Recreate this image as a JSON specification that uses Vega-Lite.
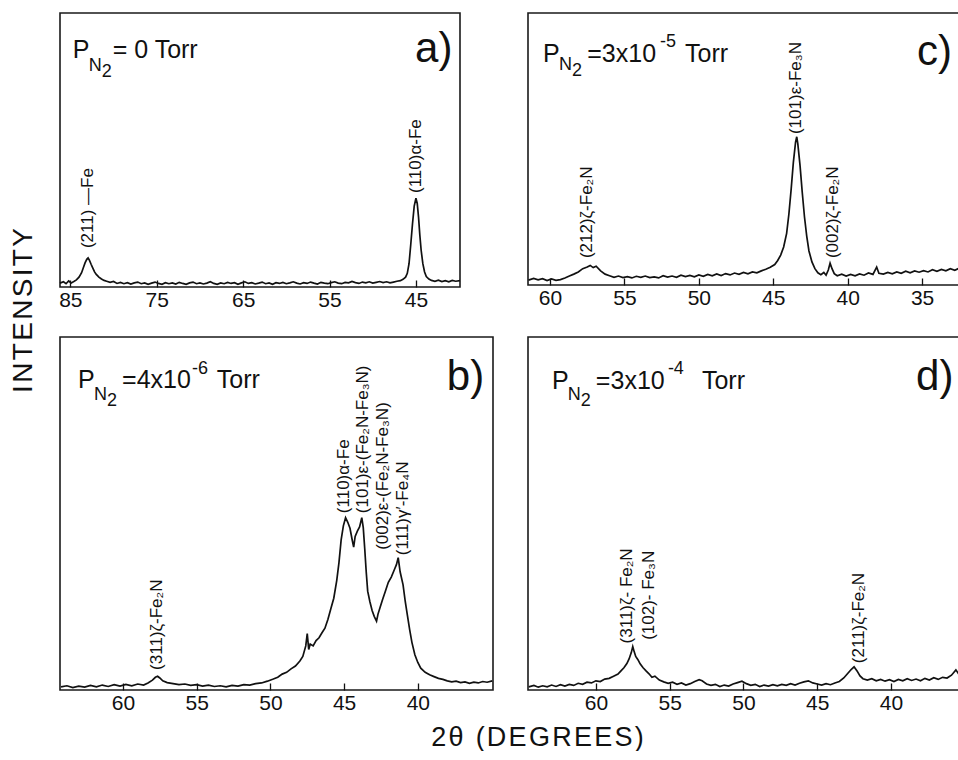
{
  "$schema": "https://vega.github.io/schema/vega-lite/v6.json",
  "background": "white",
  "padding": {"left": 8, "top": 12, "right": 0, "bottom": 0},
  "columns": 2,
  "spacing": {"row": 50, "column": 35},
  "bounds": "flush",
  "align": "each",
  "resolve": {"scale": {"x": "independent", "y": "independent"}},
  "config": {
    "view": {"stroke": "#1a1a1a", "strokeWidth": 1.6},
    "axis": {"labelFont": "Liberation Sans", "labelFontSize": 21, "labelColor": "#111", "tickColor": "#111", "tickSize": -7, "tickWidth": 1.3, "domain": false, "grid": false, "labelPadding": 9, "titleFont": "Liberation Sans", "titleColor": "#111", "titleFontWeight": "normal"},
    "text": {"font": "Liberation Sans", "color": "#111"}
  },
  "datasets": {
    "curve_a": [
      {"two_theta":86.2,"intensity":1.4},{"two_theta":85.8,"intensity":1.9},{"two_theta":85.5,"intensity":1.2},{"two_theta":85.2,"intensity":2.2},{"two_theta":84.9,"intensity":1.5},{"two_theta":84.6,"intensity":2.0},{"two_theta":84.3,"intensity":2.6},{"two_theta":84.0,"intensity":3.6},{"two_theta":83.7,"intensity":5.2},{"two_theta":83.5,"intensity":7.0},{"two_theta":83.3,"intensity":8.8},{"two_theta":83.1,"intensity":10.1},{"two_theta":82.95,"intensity":10.6},{"two_theta":82.8,"intensity":9.8},{"two_theta":82.6,"intensity":8.3},{"two_theta":82.4,"intensity":6.9},{"two_theta":82.2,"intensity":5.5},{"two_theta":82.0,"intensity":4.6},{"two_theta":81.7,"intensity":3.6},{"two_theta":81.4,"intensity":2.9},{"two_theta":81.1,"intensity":2.4},{"two_theta":80.8,"intensity":2.1},{"two_theta":80.4,"intensity":1.7},{"two_theta":80.0,"intensity":2.0},{"two_theta":79.6,"intensity":1.3},{"two_theta":79.2,"intensity":1.7},{"two_theta":78.8,"intensity":1.2},{"two_theta":78.4,"intensity":1.6},{"two_theta":78.0,"intensity":1.1},{"two_theta":77.6,"intensity":1.5},{"two_theta":77.2,"intensity":1.8},{"two_theta":76.8,"intensity":1.2},{"two_theta":76.4,"intensity":1.5},{"two_theta":76.0,"intensity":1.0},{"two_theta":75.6,"intensity":1.4},{"two_theta":75.2,"intensity":1.8},{"two_theta":74.8,"intensity":1.3},{"two_theta":74.4,"intensity":1.0},{"two_theta":74.0,"intensity":1.6},{"two_theta":73.6,"intensity":1.2},{"two_theta":73.2,"intensity":1.5},{"two_theta":72.8,"intensity":1.1},{"two_theta":72.4,"intensity":1.7},{"two_theta":72.0,"intensity":1.3},{"two_theta":71.6,"intensity":1.0},{"two_theta":71.2,"intensity":1.5},{"two_theta":70.8,"intensity":1.8},{"two_theta":70.4,"intensity":1.2},{"two_theta":70.0,"intensity":1.5},{"two_theta":69.6,"intensity":1.1},{"two_theta":69.2,"intensity":1.4},{"two_theta":68.8,"intensity":1.9},{"two_theta":68.4,"intensity":1.3},{"two_theta":68.0,"intensity":1.0},{"two_theta":67.6,"intensity":1.5},{"two_theta":67.2,"intensity":1.2},{"two_theta":66.8,"intensity":1.7},{"two_theta":66.4,"intensity":1.3},{"two_theta":66.0,"intensity":1.6},{"two_theta":65.6,"intensity":1.0},{"two_theta":65.2,"intensity":1.5},{"two_theta":64.8,"intensity":1.9},{"two_theta":64.4,"intensity":1.3},{"two_theta":64.0,"intensity":1.6},{"two_theta":63.6,"intensity":1.1},{"two_theta":63.2,"intensity":1.4},{"two_theta":62.8,"intensity":1.8},{"two_theta":62.4,"intensity":1.2},{"two_theta":62.0,"intensity":1.5},{"two_theta":61.6,"intensity":1.0},{"two_theta":61.2,"intensity":1.6},{"two_theta":60.8,"intensity":1.3},{"two_theta":60.4,"intensity":1.7},{"two_theta":60.0,"intensity":1.2},{"two_theta":59.6,"intensity":1.5},{"two_theta":59.2,"intensity":1.9},{"two_theta":58.8,"intensity":1.4},{"two_theta":58.4,"intensity":1.1},{"two_theta":58.0,"intensity":1.6},{"two_theta":57.6,"intensity":1.3},{"two_theta":57.2,"intensity":1.8},{"two_theta":56.8,"intensity":1.4},{"two_theta":56.4,"intensity":1.1},{"two_theta":56.0,"intensity":1.7},{"two_theta":55.6,"intensity":1.4},{"two_theta":55.2,"intensity":1.2},{"two_theta":54.8,"intensity":1.6},{"two_theta":54.4,"intensity":1.9},{"two_theta":54.0,"intensity":1.4},{"two_theta":53.6,"intensity":1.2},{"two_theta":53.2,"intensity":1.7},{"two_theta":52.8,"intensity":1.5},{"two_theta":52.4,"intensity":2.0},{"two_theta":52.0,"intensity":1.6},{"two_theta":51.6,"intensity":1.3},{"two_theta":51.2,"intensity":1.8},{"two_theta":50.8,"intensity":1.5},{"two_theta":50.4,"intensity":1.9},{"two_theta":50.0,"intensity":1.4},{"two_theta":49.6,"intensity":1.7},{"two_theta":49.2,"intensity":2.0},{"two_theta":48.8,"intensity":1.6},{"two_theta":48.4,"intensity":1.9},{"two_theta":48.0,"intensity":1.5},{"two_theta":47.6,"intensity":1.8},{"two_theta":47.2,"intensity":2.1},{"two_theta":46.8,"intensity":2.3},{"two_theta":46.5,"intensity":2.8},{"two_theta":46.2,"intensity":3.6},{"two_theta":46.0,"intensity":5.0},{"two_theta":45.8,"intensity":8.5},{"two_theta":45.6,"intensity":15.5},{"two_theta":45.4,"intensity":23.0},{"two_theta":45.2,"intensity":29.5},{"two_theta":45.0,"intensity":32.4},{"two_theta":44.85,"intensity":30.5},{"two_theta":44.7,"intensity":25.5},{"two_theta":44.55,"intensity":19.0},{"two_theta":44.4,"intensity":13.5},{"two_theta":44.2,"intensity":8.5},{"two_theta":44.0,"intensity":5.5},{"two_theta":43.8,"intensity":3.8},{"two_theta":43.5,"intensity":2.9},{"two_theta":43.2,"intensity":2.4},{"two_theta":42.8,"intensity":2.1},{"two_theta":42.4,"intensity":2.5},{"two_theta":42.0,"intensity":2.0},{"two_theta":41.6,"intensity":2.3},{"two_theta":41.2,"intensity":1.9},{"two_theta":40.8,"intensity":2.4},{"two_theta":40.4,"intensity":2.1},{"two_theta":39.9,"intensity":2.3}
    ],
    "curve_b": [
      {"two_theta":64.2,"intensity":0.9},{"two_theta":63.8,"intensity":1.2},{"two_theta":63.4,"intensity":0.7},{"two_theta":63.0,"intensity":1.1},{"two_theta":62.6,"intensity":0.8},{"two_theta":62.2,"intensity":1.3},{"two_theta":61.8,"intensity":0.9},{"two_theta":61.4,"intensity":1.4},{"two_theta":61.0,"intensity":1.0},{"two_theta":60.6,"intensity":1.5},{"two_theta":60.2,"intensity":1.1},{"two_theta":59.8,"intensity":1.6},{"two_theta":59.4,"intensity":1.2},{"two_theta":59.0,"intensity":1.7},{"two_theta":58.6,"intensity":1.4},{"two_theta":58.3,"intensity":2.0},{"two_theta":58.0,"intensity":2.8},{"two_theta":57.8,"intensity":3.6},{"two_theta":57.65,"intensity":3.9},{"two_theta":57.5,"intensity":3.4},{"two_theta":57.3,"intensity":2.6},{"two_theta":57.0,"intensity":2.1},{"two_theta":56.6,"intensity":1.8},{"two_theta":56.2,"intensity":1.5},{"two_theta":55.8,"intensity":1.7},{"two_theta":55.4,"intensity":1.3},{"two_theta":55.0,"intensity":1.5},{"two_theta":54.6,"intensity":1.1},{"two_theta":54.2,"intensity":1.4},{"two_theta":53.8,"intensity":1.0},{"two_theta":53.4,"intensity":1.2},{"two_theta":53.0,"intensity":0.9},{"two_theta":52.6,"intensity":1.3},{"two_theta":52.2,"intensity":1.1},{"two_theta":51.8,"intensity":1.5},{"two_theta":51.4,"intensity":1.4},{"two_theta":51.0,"intensity":1.8},{"two_theta":50.6,"intensity":2.0},{"two_theta":50.2,"intensity":2.5},{"two_theta":49.8,"intensity":3.1},{"two_theta":49.5,"intensity":3.6},{"two_theta":49.2,"intensity":4.5},{"two_theta":48.9,"intensity":5.0},{"two_theta":48.6,"intensity":6.0},{"two_theta":48.3,"intensity":6.8},{"two_theta":48.0,"intensity":8.2},{"two_theta":47.8,"intensity":9.5},{"two_theta":47.6,"intensity":12.5},{"two_theta":47.5,"intensity":16.0},{"two_theta":47.4,"intensity":11.5},{"two_theta":47.3,"intensity":13.0},{"two_theta":47.1,"intensity":12.5},{"two_theta":46.9,"intensity":14.0},{"two_theta":46.7,"intensity":14.8},{"two_theta":46.5,"intensity":16.2},{"two_theta":46.3,"intensity":17.5},{"two_theta":46.1,"intensity":20.0},{"two_theta":45.9,"intensity":23.0},{"two_theta":45.7,"intensity":26.0},{"two_theta":45.5,"intensity":31.0},{"two_theta":45.35,"intensity":36.0},{"two_theta":45.2,"intensity":42.5},{"two_theta":45.05,"intensity":46.5},{"two_theta":44.9,"intensity":48.8},{"two_theta":44.75,"intensity":47.5},{"two_theta":44.6,"intensity":45.8},{"two_theta":44.45,"intensity":42.5},{"two_theta":44.35,"intensity":40.5},{"two_theta":44.25,"intensity":43.5},{"two_theta":44.1,"intensity":45.0},{"two_theta":43.95,"intensity":46.2},{"two_theta":43.8,"intensity":48.8},{"two_theta":43.7,"intensity":46.0},{"two_theta":43.6,"intensity":40.0},{"two_theta":43.5,"intensity":33.5},{"two_theta":43.4,"intensity":28.0},{"two_theta":43.25,"intensity":25.0},{"two_theta":43.1,"intensity":22.5},{"two_theta":42.95,"intensity":20.8},{"two_theta":42.8,"intensity":19.5},{"two_theta":42.7,"intensity":21.5},{"two_theta":42.55,"intensity":23.5},{"two_theta":42.4,"intensity":25.5},{"two_theta":42.2,"intensity":28.0},{"two_theta":42.0,"intensity":30.5},{"two_theta":41.8,"intensity":32.0},{"two_theta":41.6,"intensity":34.0},{"two_theta":41.45,"intensity":35.5},{"two_theta":41.33,"intensity":37.5},{"two_theta":41.2,"intensity":33.5},{"two_theta":41.0,"intensity":29.8},{"two_theta":40.85,"intensity":25.0},{"two_theta":40.7,"intensity":21.0},{"two_theta":40.55,"intensity":17.0},{"two_theta":40.4,"intensity":13.5},{"two_theta":40.2,"intensity":10.0},{"two_theta":40.0,"intensity":7.8},{"two_theta":39.8,"intensity":6.2},{"two_theta":39.5,"intensity":5.0},{"two_theta":39.2,"intensity":4.3},{"two_theta":38.9,"intensity":3.8},{"two_theta":38.6,"intensity":3.3},{"two_theta":38.3,"intensity":3.0},{"two_theta":38.0,"intensity":2.6},{"two_theta":37.7,"intensity":2.3},{"two_theta":37.4,"intensity":2.5},{"two_theta":37.1,"intensity":2.1},{"two_theta":36.8,"intensity":2.3},{"two_theta":36.5,"intensity":1.9},{"two_theta":36.2,"intensity":2.2},{"two_theta":35.9,"intensity":2.0},{"two_theta":35.6,"intensity":2.4},{"two_theta":35.3,"intensity":2.2},{"two_theta":34.95,"intensity":2.6}
    ],
    "curve_c": [
      {"two_theta":61.45,"intensity":1.8},{"two_theta":61.1,"intensity":2.4},{"two_theta":60.8,"intensity":1.9},{"two_theta":60.5,"intensity":2.3},{"two_theta":60.2,"intensity":1.6},{"two_theta":59.9,"intensity":2.2},{"two_theta":59.6,"intensity":1.7},{"two_theta":59.3,"intensity":2.0},{"two_theta":59.0,"intensity":2.6},{"two_theta":58.7,"intensity":3.3},{"two_theta":58.4,"intensity":4.0},{"two_theta":58.1,"intensity":4.8},{"two_theta":57.8,"intensity":6.0},{"two_theta":57.5,"intensity":6.6},{"two_theta":57.3,"intensity":7.2},{"two_theta":57.1,"intensity":6.4},{"two_theta":56.9,"intensity":6.9},{"two_theta":56.6,"intensity":5.2},{"two_theta":56.3,"intensity":4.0},{"two_theta":56.0,"intensity":3.4},{"two_theta":55.7,"intensity":2.8},{"two_theta":55.4,"intensity":3.3},{"two_theta":55.1,"intensity":2.7},{"two_theta":54.8,"intensity":3.1},{"two_theta":54.5,"intensity":2.6},{"two_theta":54.2,"intensity":3.2},{"two_theta":53.9,"intensity":2.8},{"two_theta":53.6,"intensity":3.3},{"two_theta":53.3,"intensity":2.7},{"two_theta":53.0,"intensity":3.0},{"two_theta":52.7,"intensity":2.6},{"two_theta":52.4,"intensity":3.4},{"two_theta":52.1,"intensity":2.9},{"two_theta":51.8,"intensity":3.3},{"two_theta":51.5,"intensity":2.8},{"two_theta":51.2,"intensity":3.6},{"two_theta":50.9,"intensity":3.1},{"two_theta":50.6,"intensity":3.5},{"two_theta":50.3,"intensity":3.0},{"two_theta":50.0,"intensity":3.7},{"two_theta":49.7,"intensity":3.2},{"two_theta":49.4,"intensity":3.9},{"two_theta":49.1,"intensity":3.4},{"two_theta":48.8,"intensity":4.1},{"two_theta":48.5,"intensity":3.5},{"two_theta":48.2,"intensity":4.2},{"two_theta":47.9,"intensity":3.7},{"two_theta":47.6,"intensity":4.4},{"two_theta":47.3,"intensity":3.9},{"two_theta":47.0,"intensity":4.6},{"two_theta":46.7,"intensity":4.1},{"two_theta":46.4,"intensity":4.8},{"two_theta":46.1,"intensity":4.5},{"two_theta":45.8,"intensity":5.2},{"two_theta":45.5,"intensity":5.8},{"two_theta":45.2,"intensity":6.5},{"two_theta":44.9,"intensity":7.5},{"two_theta":44.7,"intensity":9.0},{"two_theta":44.5,"intensity":11.0},{"two_theta":44.3,"intensity":14.0},{"two_theta":44.1,"intensity":19.0},{"two_theta":43.95,"intensity":26.0},{"two_theta":43.8,"intensity":35.0},{"two_theta":43.65,"intensity":45.0},{"two_theta":43.5,"intensity":52.5},{"two_theta":43.42,"intensity":54.5},{"two_theta":43.35,"intensity":52.0},{"two_theta":43.2,"intensity":44.0},{"two_theta":43.05,"intensity":34.0},{"two_theta":42.9,"intensity":25.0},{"two_theta":42.75,"intensity":18.0},{"two_theta":42.6,"intensity":12.5},{"two_theta":42.4,"intensity":8.5},{"two_theta":42.2,"intensity":6.0},{"two_theta":42.0,"intensity":4.5},{"two_theta":41.8,"intensity":3.8},{"two_theta":41.6,"intensity":4.6},{"two_theta":41.45,"intensity":3.6},{"two_theta":41.3,"intensity":5.5},{"two_theta":41.18,"intensity":8.0},{"two_theta":41.05,"intensity":6.0},{"two_theta":40.9,"intensity":4.2},{"two_theta":40.7,"intensity":3.4},{"two_theta":40.4,"intensity":4.0},{"two_theta":40.1,"intensity":3.3},{"two_theta":39.8,"intensity":3.9},{"two_theta":39.5,"intensity":3.4},{"two_theta":39.2,"intensity":4.1},{"two_theta":38.9,"intensity":3.6},{"two_theta":38.6,"intensity":4.4},{"two_theta":38.3,"intensity":3.9},{"two_theta":38.05,"intensity":6.6},{"two_theta":37.9,"intensity":4.3},{"two_theta":37.6,"intensity":4.0},{"two_theta":37.3,"intensity":4.6},{"two_theta":37.0,"intensity":4.1},{"two_theta":36.7,"intensity":4.8},{"two_theta":36.4,"intensity":4.3},{"two_theta":36.1,"intensity":5.1},{"two_theta":35.8,"intensity":4.5},{"two_theta":35.5,"intensity":5.2},{"two_theta":35.2,"intensity":4.7},{"two_theta":34.9,"intensity":5.3},{"two_theta":34.6,"intensity":4.8},{"two_theta":34.3,"intensity":5.6},{"two_theta":34.0,"intensity":5.0},{"two_theta":33.7,"intensity":5.7},{"two_theta":33.4,"intensity":5.2},{"two_theta":33.1,"intensity":6.0},{"two_theta":32.8,"intensity":5.4},{"two_theta":32.5,"intensity":6.2}
    ],
    "curve_d": [
      {"two_theta":64.55,"intensity":0.9},{"two_theta":64.2,"intensity":1.3},{"two_theta":63.9,"intensity":0.8},{"two_theta":63.6,"intensity":1.2},{"two_theta":63.3,"intensity":0.9},{"two_theta":63.0,"intensity":1.4},{"two_theta":62.7,"intensity":1.0},{"two_theta":62.4,"intensity":1.5},{"two_theta":62.1,"intensity":1.1},{"two_theta":61.8,"intensity":1.6},{"two_theta":61.5,"intensity":1.3},{"two_theta":61.2,"intensity":1.9},{"two_theta":60.9,"intensity":1.6},{"two_theta":60.6,"intensity":2.2},{"two_theta":60.3,"intensity":2.0},{"two_theta":60.0,"intensity":2.6},{"two_theta":59.7,"intensity":2.4},{"two_theta":59.4,"intensity":3.1},{"two_theta":59.1,"intensity":3.3},{"two_theta":58.8,"intensity":3.9},{"two_theta":58.5,"intensity":4.5},{"two_theta":58.3,"intensity":5.4},{"two_theta":58.1,"intensity":6.3},{"two_theta":57.9,"intensity":7.5},{"two_theta":57.75,"intensity":8.8},{"two_theta":57.6,"intensity":10.6},{"two_theta":57.5,"intensity":12.3},{"two_theta":57.4,"intensity":10.8},{"two_theta":57.3,"intensity":9.5},{"two_theta":57.15,"intensity":8.6},{"two_theta":57.0,"intensity":7.4},{"two_theta":56.8,"intensity":6.3},{"two_theta":56.6,"intensity":5.4},{"two_theta":56.4,"intensity":4.6},{"two_theta":56.2,"intensity":3.6},{"two_theta":56.0,"intensity":3.9},{"two_theta":55.7,"intensity":2.8},{"two_theta":55.4,"intensity":2.3},{"two_theta":55.1,"intensity":1.9},{"two_theta":54.8,"intensity":2.2},{"two_theta":54.5,"intensity":1.6},{"two_theta":54.2,"intensity":2.0},{"two_theta":53.9,"intensity":1.4},{"two_theta":53.6,"intensity":1.8},{"two_theta":53.3,"intensity":2.4},{"two_theta":53.0,"intensity":2.9},{"two_theta":52.8,"intensity":2.6},{"two_theta":52.5,"intensity":1.7},{"two_theta":52.2,"intensity":1.3},{"two_theta":51.9,"intensity":1.6},{"two_theta":51.6,"intensity":1.0},{"two_theta":51.3,"intensity":1.4},{"two_theta":51.0,"intensity":1.1},{"two_theta":50.7,"intensity":1.7},{"two_theta":50.4,"intensity":2.1},{"two_theta":50.1,"intensity":2.5},{"two_theta":49.8,"intensity":1.8},{"two_theta":49.5,"intensity":1.3},{"two_theta":49.2,"intensity":1.6},{"two_theta":48.9,"intensity":1.0},{"two_theta":48.6,"intensity":1.4},{"two_theta":48.3,"intensity":1.1},{"two_theta":48.0,"intensity":1.5},{"two_theta":47.7,"intensity":1.2},{"two_theta":47.4,"intensity":1.6},{"two_theta":47.1,"intensity":1.3},{"two_theta":46.8,"intensity":1.8},{"two_theta":46.5,"intensity":1.4},{"two_theta":46.2,"intensity":1.9},{"two_theta":45.9,"intensity":2.3},{"two_theta":45.6,"intensity":2.6},{"two_theta":45.3,"intensity":2.0},{"two_theta":45.0,"intensity":1.7},{"two_theta":44.7,"intensity":1.4},{"two_theta":44.4,"intensity":1.8},{"two_theta":44.1,"intensity":1.5},{"two_theta":43.8,"intensity":2.0},{"two_theta":43.5,"intensity":2.4},{"two_theta":43.2,"intensity":3.4},{"two_theta":42.95,"intensity":4.6},{"two_theta":42.7,"intensity":5.8},{"two_theta":42.5,"intensity":6.6},{"two_theta":42.3,"intensity":5.4},{"two_theta":42.1,"intensity":4.0},{"two_theta":41.9,"intensity":3.2},{"two_theta":41.6,"intensity":2.8},{"two_theta":41.3,"intensity":3.2},{"two_theta":41.0,"intensity":2.6},{"two_theta":40.7,"intensity":3.0},{"two_theta":40.4,"intensity":2.5},{"two_theta":40.1,"intensity":2.9},{"two_theta":39.8,"intensity":2.4},{"two_theta":39.5,"intensity":3.0},{"two_theta":39.2,"intensity":2.6},{"two_theta":38.9,"intensity":3.2},{"two_theta":38.6,"intensity":2.7},{"two_theta":38.3,"intensity":3.1},{"two_theta":38.0,"intensity":2.6},{"two_theta":37.7,"intensity":3.3},{"two_theta":37.4,"intensity":2.8},{"two_theta":37.1,"intensity":3.5},{"two_theta":36.8,"intensity":3.0},{"two_theta":36.5,"intensity":3.6},{"two_theta":36.2,"intensity":3.4},{"two_theta":35.9,"intensity":4.2},{"two_theta":35.6,"intensity":5.7},{"two_theta":35.4,"intensity":4.5}
    ],
    "texts": [
      {"panel":"a","role":"peak","two_theta":82.95,"intensity":14.2,"label":"(211) —Fe"},
      {"panel":"a","role":"peak","two_theta":44.95,"intensity":34.3,"label":"(110)α-Fe"},
      {"panel":"a","role":"big","two_theta":84.73,"intensity":83.6,"label":"P"},
      {"panel":"a","role":"big","two_theta":80.1,"intensity":83.6,"label":"= 0 Torr"},
      {"panel":"a","role":"sub","two_theta":82.88,"intensity":78.8,"label":"N"},
      {"panel":"a","role":"letter","two_theta":45.1,"intensity":82.1,"label":"a)"},
      {"panel":"b","role":"peak","two_theta":57.7,"intensity":5.7,"label":"(311)ζ-Fe₂N"},
      {"panel":"b","role":"peak","two_theta":45.0,"intensity":50.1,"label":"(110)α-Fe"},
      {"panel":"b","role":"peak","two_theta":43.72,"intensity":50.1,"label":"(101)ε-(Fe₂N-Fe₃N)"},
      {"panel":"b","role":"peak","two_theta":42.35,"intensity":39.7,"label":"(002)ε-(Fe₂N-Fe₃N)"},
      {"panel":"b","role":"peak","two_theta":41.0,"intensity":38.2,"label":"(111)γ′-Fe₄N"},
      {"panel":"b","role":"big","two_theta":63.05,"intensity":85.6,"label":"P"},
      {"panel":"b","role":"big","two_theta":60.06,"intensity":85.6,"label":"=4x10"},
      {"panel":"b","role":"big","two_theta":53.63,"intensity":85.6,"label":"Torr"},
      {"panel":"b","role":"sub","two_theta":61.97,"intensity":82.2,"label":"N"},
      {"panel":"b","role":"sup","two_theta":55.32,"intensity":89.5,"label":"-6"},
      {"panel":"b","role":"letter","two_theta":38.03,"intensity":85.0,"label":"b)"},
      {"panel":"c","role":"peak","two_theta":57.5,"intensity":9.9,"label":"(212)ζ-Fe₂N"},
      {"panel":"c","role":"peak","two_theta":43.5,"intensity":55.5,"label":"(101)ε-Fe₃N"},
      {"panel":"c","role":"peak","two_theta":41.0,"intensity":9.9,"label":"(002)ζ-Fe₂N"},
      {"panel":"c","role":"big","two_theta":60.47,"intensity":82.0,"label":"P"},
      {"panel":"c","role":"big","two_theta":57.5,"intensity":82.0,"label":"=3x10"},
      {"panel":"c","role":"big","two_theta":50.93,"intensity":82.0,"label":"Torr"},
      {"panel":"c","role":"sub","two_theta":59.4,"intensity":79.0,"label":"N"},
      {"panel":"c","role":"sup","two_theta":52.61,"intensity":87.5,"label":"-5"},
      {"panel":"c","role":"letter","two_theta":35.34,"intensity":80.9,"label":"c)"},
      {"panel":"d","role":"peak","two_theta":57.88,"intensity":13.2,"label":"(311)ζ- Fe₂N"},
      {"panel":"d","role":"peak","two_theta":56.41,"intensity":14.2,"label":"(102)- Fe₃N"},
      {"panel":"d","role":"peak","two_theta":42.17,"intensity":7.6,"label":"(211)ζ-Fe₂N"},
      {"panel":"d","role":"big","two_theta":62.98,"intensity":85.3,"label":"P"},
      {"panel":"d","role":"big","two_theta":60.0,"intensity":85.3,"label":"=3x10"},
      {"panel":"d","role":"big","two_theta":52.81,"intensity":85.3,"label":"Torr"},
      {"panel":"d","role":"sub","two_theta":61.9,"intensity":82.2,"label":"N"},
      {"panel":"d","role":"sup","two_theta":55.12,"intensity":89.5,"label":"-4"},
      {"panel":"d","role":"letter","two_theta":38.3,"intensity":85.0,"label":"d)"}
    ]
  },
  "concat": [
    {
      "width": 400, "height": 274,
      "encoding": {
        "x": {"field": "two_theta", "type": "quantitative", "scale": {"domain": [39.9, 86.2], "reverse": true, "nice": false, "zero": false}, "axis": {"values": [85, 75, 65, 55, 45], "title": null}},
        "y": {"field": "intensity", "type": "quantitative", "scale": {"domain": [0, 100], "nice": false}, "axis": null}
      },
      "layer": [
        {"data": {"name": "curve_a"}, "mark": {"type": "line", "color": "#111", "strokeWidth": 1.7}, "encoding": {}},
        {"data": {"name": "texts"}, "transform": [{"filter": "datum.panel == 'a' && datum.role == 'peak'"}], "mark": {"type": "text", "angle": 270, "align": "left", "baseline": "middle", "fontSize": 17}, "encoding": {"text": {"field": "label"}}},
        {"data": {"name": "texts"}, "transform": [{"filter": "datum.panel == 'a' && datum.role == 'big'"}], "mark": {"type": "text", "align": "left", "baseline": "alphabetic", "fontSize": 25}, "encoding": {"text": {"field": "label"}}},
        {"data": {"name": "texts"}, "transform": [{"filter": "datum.panel == 'a' && (datum.role == 'sub' || datum.role == 'sup')"}], "mark": {"type": "text", "align": "left", "baseline": "alphabetic", "fontSize": 18}, "encoding": {"text": {"field": "label"}}},
        {"data": {"name": "texts"}, "transform": [{"filter": "datum.panel == 'a' && datum.role == 'sub'"}], "mark": {"type": "text", "align": "left", "baseline": "alphabetic", "fontSize": 18, "dx": 13, "dy": 6}, "encoding": {"text": {"value": "2"}}},
        {"data": {"name": "texts"}, "transform": [{"filter": "datum.panel == 'a' && datum.role == 'letter'"}], "mark": {"type": "text", "align": "left", "baseline": "alphabetic", "fontSize": 42}, "encoding": {"text": {"field": "label"}}}
      ]
    },
    {
      "width": 432, "height": 272,
      "encoding": {
        "x": {"field": "two_theta", "type": "quantitative", "scale": {"domain": [32.45, 61.48], "reverse": true, "nice": false, "zero": false}, "axis": {"values": [60, 55, 50, 45, 40, 35], "title": null}},
        "y": {"field": "intensity", "type": "quantitative", "scale": {"domain": [0, 100], "nice": false}, "axis": null}
      },
      "layer": [
        {"data": {"name": "curve_c"}, "mark": {"type": "line", "color": "#111", "strokeWidth": 1.7}, "encoding": {}},
        {"data": {"name": "texts"}, "transform": [{"filter": "datum.panel == 'c' && datum.role == 'peak'"}], "mark": {"type": "text", "angle": 270, "align": "left", "baseline": "middle", "fontSize": 17}, "encoding": {"text": {"field": "label"}}},
        {"data": {"name": "texts"}, "transform": [{"filter": "datum.panel == 'c' && datum.role == 'big'"}], "mark": {"type": "text", "align": "left", "baseline": "alphabetic", "fontSize": 25}, "encoding": {"text": {"field": "label"}}},
        {"data": {"name": "texts"}, "transform": [{"filter": "datum.panel == 'c' && (datum.role == 'sub' || datum.role == 'sup')"}], "mark": {"type": "text", "align": "left", "baseline": "alphabetic", "fontSize": 18}, "encoding": {"text": {"field": "label"}}},
        {"data": {"name": "texts"}, "transform": [{"filter": "datum.panel == 'c' && datum.role == 'sub'"}], "mark": {"type": "text", "align": "left", "baseline": "alphabetic", "fontSize": 18, "dx": 13, "dy": 6}, "encoding": {"text": {"value": "2"}}},
        {"data": {"name": "texts"}, "transform": [{"filter": "datum.panel == 'c' && datum.role == 'letter'"}], "mark": {"type": "text", "align": "left", "baseline": "alphabetic", "fontSize": 42}, "encoding": {"text": {"field": "label"}}}
      ]
    },
    {
      "width": 433, "height": 353,
      "encoding": {
        "x": {"field": "two_theta", "type": "quantitative", "scale": {"domain": [34.9, 64.27], "reverse": true, "nice": false, "zero": false}, "axis": {"values": [60, 55, 50, 45, 40], "title": "2\u200aθ\u200a \u200a(\u200aD\u200aE\u200aG\u200aR\u200aE\u200aE\u200aS\u200a)", "titleFontSize": 27, "titleX": 477, "titleY": 55, "titleAlign": "center", "titleBaseline": "alphabetic", "titleAngle": 0}},
        "y": {"field": "intensity", "type": "quantitative", "scale": {"domain": [0, 100], "nice": false}, "axis": {"title": "I\u200aN\u200aT\u200aE\u200aN\u200aS\u200aI\u200aT\u200aY", "labels": false, "ticks": false, "domain": false, "grid": false, "titleFontSize": 28, "titleX": -37, "titleY": -27, "titleAngle": 270, "titleAlign": "center", "titleBaseline": "middle"}}
      },
      "layer": [
        {"data": {"name": "curve_b"}, "mark": {"type": "line", "color": "#111", "strokeWidth": 1.7}, "encoding": {}},
        {"data": {"name": "texts"}, "transform": [{"filter": "datum.panel == 'b' && datum.role == 'peak'"}], "mark": {"type": "text", "angle": 270, "align": "left", "baseline": "middle", "fontSize": 17}, "encoding": {"text": {"field": "label"}}},
        {"data": {"name": "texts"}, "transform": [{"filter": "datum.panel == 'b' && datum.role == 'big'"}], "mark": {"type": "text", "align": "left", "baseline": "alphabetic", "fontSize": 25}, "encoding": {"text": {"field": "label"}}},
        {"data": {"name": "texts"}, "transform": [{"filter": "datum.panel == 'b' && (datum.role == 'sub' || datum.role == 'sup')"}], "mark": {"type": "text", "align": "left", "baseline": "alphabetic", "fontSize": 18}, "encoding": {"text": {"field": "label"}}},
        {"data": {"name": "texts"}, "transform": [{"filter": "datum.panel == 'b' && datum.role == 'sub'"}], "mark": {"type": "text", "align": "left", "baseline": "alphabetic", "fontSize": 18, "dx": 13, "dy": 6}, "encoding": {"text": {"value": "2"}}},
        {"data": {"name": "texts"}, "transform": [{"filter": "datum.panel == 'b' && datum.role == 'letter'"}], "mark": {"type": "text", "align": "left", "baseline": "alphabetic", "fontSize": 42}, "encoding": {"text": {"field": "label"}}}
      ]
    },
    {
      "width": 431, "height": 353,
      "encoding": {
        "x": {"field": "two_theta", "type": "quantitative", "scale": {"domain": [35.39, 64.6], "reverse": true, "nice": false, "zero": false}, "axis": {"values": [60, 55, 50, 45, 40], "title": null}},
        "y": {"field": "intensity", "type": "quantitative", "scale": {"domain": [0, 100], "nice": false}, "axis": null}
      },
      "layer": [
        {"data": {"name": "curve_d"}, "mark": {"type": "line", "color": "#111", "strokeWidth": 1.7}, "encoding": {}},
        {"data": {"name": "texts"}, "transform": [{"filter": "datum.panel == 'd' && datum.role == 'peak'"}], "mark": {"type": "text", "angle": 270, "align": "left", "baseline": "middle", "fontSize": 17}, "encoding": {"text": {"field": "label"}}},
        {"data": {"name": "texts"}, "transform": [{"filter": "datum.panel == 'd' && datum.role == 'big'"}], "mark": {"type": "text", "align": "left", "baseline": "alphabetic", "fontSize": 25}, "encoding": {"text": {"field": "label"}}},
        {"data": {"name": "texts"}, "transform": [{"filter": "datum.panel == 'd' && (datum.role == 'sub' || datum.role == 'sup')"}], "mark": {"type": "text", "align": "left", "baseline": "alphabetic", "fontSize": 18}, "encoding": {"text": {"field": "label"}}},
        {"data": {"name": "texts"}, "transform": [{"filter": "datum.panel == 'd' && datum.role == 'sub'"}], "mark": {"type": "text", "align": "left", "baseline": "alphabetic", "fontSize": 18, "dx": 13, "dy": 6}, "encoding": {"text": {"value": "2"}}},
        {"data": {"name": "texts"}, "transform": [{"filter": "datum.panel == 'd' && datum.role == 'letter'"}], "mark": {"type": "text", "align": "left", "baseline": "alphabetic", "fontSize": 42}, "encoding": {"text": {"field": "label"}}}
      ]
    }
  ]
}
